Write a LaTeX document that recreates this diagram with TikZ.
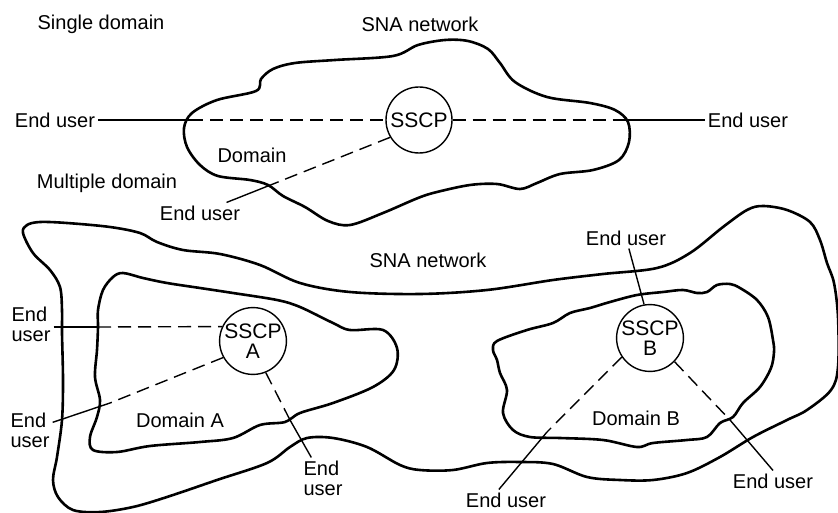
\documentclass[tikz,border=0pt]{standalone}
\usepackage{fontspec}
\setmainfont{Liberation Sans}
\begin{document}
\begin{tikzpicture}[x=1pt,y=-1pt,
  lbl/.style={font=\fontsize{20}{20}\selectfont, inner sep=3pt},
  lbltwo/.style={lbl, align=left},
  sscpnode/.style={circle, draw, line width=1.4pt, fill=white, minimum size=66pt,
    inner sep=0pt, align=center, font=\fontsize{21}{20}\selectfont},
  cloudline/.style={line width=2.6pt, line join=round},
  link/.style={line width=1.4pt},
  dlink/.style={link, dash pattern=on 13pt off 7pt}]
\useasboundingbox (0,0) rectangle (838,513);

% ---------- clouds ----------
% single domain
\draw[cloudline] plot[smooth cycle, tension=0.55] coordinates {
 (192,113) (217,100) (256,91) (261,79) (273,69) (295,63) (335,60) (393,56)
 (418,45) (445,40) (468,41) (488,49) (500,63) (515,82) (547,97) (590,103)
 (615,110) (628,122) (629,142) (619,160) (593,170) (560,174) (537,183)
 (520,189) (497,184) (470,185) (437,192) (418,198) (383,213) (350,225)
 (328,221) (305,207) (283,196) (268,185) (250,180) (218,176) (200,165)
 (187,147) (184,128)};
% SNA network (multiple domain)
\draw[cloudline] plot[smooth cycle, tension=0.55] coordinates {
 (23,233) (27,225) (40,222) (67,223) (110,227) (140,233) (157,242) (183,250)
 (220,254) (260,265) (300,283) (350,292) (420,294) (487,290) (553,280)
 (603,274) (657,268) (690,253) (723,227) (747,210) (763,206) (787,210)
 (810,222) (820,240) (827,263) (834,283) (838,317) (838,367) (831,390)
 (807,410) (787,420) (753,437) (720,457) (687,473) (653,480) (620,480)
 (587,477) (553,464) (520,462) (487,463) (453,470) (420,470) (400,465)
 (367,447) (333,438) (307,438) (290,447) (267,463) (217,480) (167,497)
 (133,507) (100,512) (73,510) (58,497) (53,480) (57,457) (62,420) (63,380)
 (62,333) (62,310) (60,287) (50,270) (33,253)};
% Domain A
\draw[cloudline] plot[smooth cycle, tension=0.55] coordinates {
 (113,277) (123,273) (143,278) (167,283) (200,288) (233,293) (277,300)
 (300,307) (333,323) (350,330) (383,330) (397,348) (394,370) (373,387)
 (333,403) (300,413) (285,422) (260,425) (233,438) (200,442) (150,446)
 (117,452) (93,450) (90,437) (97,417) (100,400) (95,377) (97,350) (98,327)
 (98,310) (103,290)};
% Domain B
\draw[cloudline] plot[smooth cycle, tension=0.55] coordinates {
 (493,350) (497,341) (527,330) (553,323) (570,313) (590,308) (610,302)
 (637,295) (663,292) (683,290) (697,293) (707,292) (717,285) (730,284)
 (740,288) (757,300) (768,317) (773,340) (774,352) (771,368) (760,387)
 (743,403) (733,417) (720,423) (707,437) (687,440) (653,443) (637,447)
 (603,440) (560,438) (530,437) (513,430) (503,413) (507,390) (500,373)
 (497,360)};

% ---------- texts ----------
\node[lbl] (tsingle) at (101,24) {Single domain};
\node[lbl] (tsnaone) at (420,24) {SNA network};
\node[lbl] (tdomain) at (252,155) {Domain};
\node[lbl] (tmulti) at (107,183) {Multiple domain};
\node[lbl] (eutl) at (55,120) {End user};
\node[lbl] (eutr) at (748,120) {End user};
\node[lbl] (eutb) at (200,213) {End user};

\node[lbl] (tsnatwo) at (428,260) {SNA network};
\node[lbl] (tdoma) at (180,420) {Domain A};
\node[lbl] (tdomb) at (636,418) {Domain B};
\node[lbltwo] (euaone) at (31,324) {End\\user};
\node[lbltwo] (euatwo) at (30,430) {End\\user};
\node[lbltwo] (euathree) at (323,478) {End\\user};
\node[lbl] (eubone) at (626,238) {End user};
\node[lbl] (eubtwo) at (506,500) {End user};
\node[lbl] (eubthree) at (773,481) {End user};

% ---------- SSCP circles ----------
\node[sscpnode] (sscp) at (419,120) {SSCP};
\node[sscpnode] (sscpa) at (253,341) {SSCP\\A};
\node[sscpnode] (sscpb) at (650,338) {SSCP\\B};

% ---------- crossing points ----------
\coordinate (ctl) at (190,120);
\coordinate (ctr) at (628,120);
\coordinate (ctb) at (268,186);
\coordinate (caone) at (98,327);
\coordinate (catwo) at (110,403);
\coordinate (cathree) at (290,420);
\coordinate (cbtwo) at (547,432);
\coordinate (cbthree) at (730,420);

% ---------- connectors ----------
\draw[link] (eutl) -- (ctl);
\draw[dlink] (ctl) -- (sscp);
\draw[dlink] (sscp) -- (ctr);
\draw[link] (ctr) -- (eutr);
\draw[dlink] (sscp.211) -- (ctb);
\draw[link] (ctb) -- (eutb);

\draw[link] (euaone.east |- caone) -- (caone);
\draw[dlink] (caone) -- (sscpa.155);
\draw[dlink] (sscpa.209) -- (catwo);
\draw[link] (catwo) -- (euatwo);
\draw[dlink] (sscpa.-68) -- (cathree);
\draw[link] (cathree) -- (euathree);

\draw[link] (sscpb.100) -- (eubone);
\draw[dlink] (sscpb.214) -- (cbtwo);
\draw[link] (cbtwo) -- (eubtwo.124);
\draw[dlink] (sscpb.-44) -- (cbthree);
\draw[link] (cbthree) -- (eubthree.north);
\end{tikzpicture}
\end{document}
